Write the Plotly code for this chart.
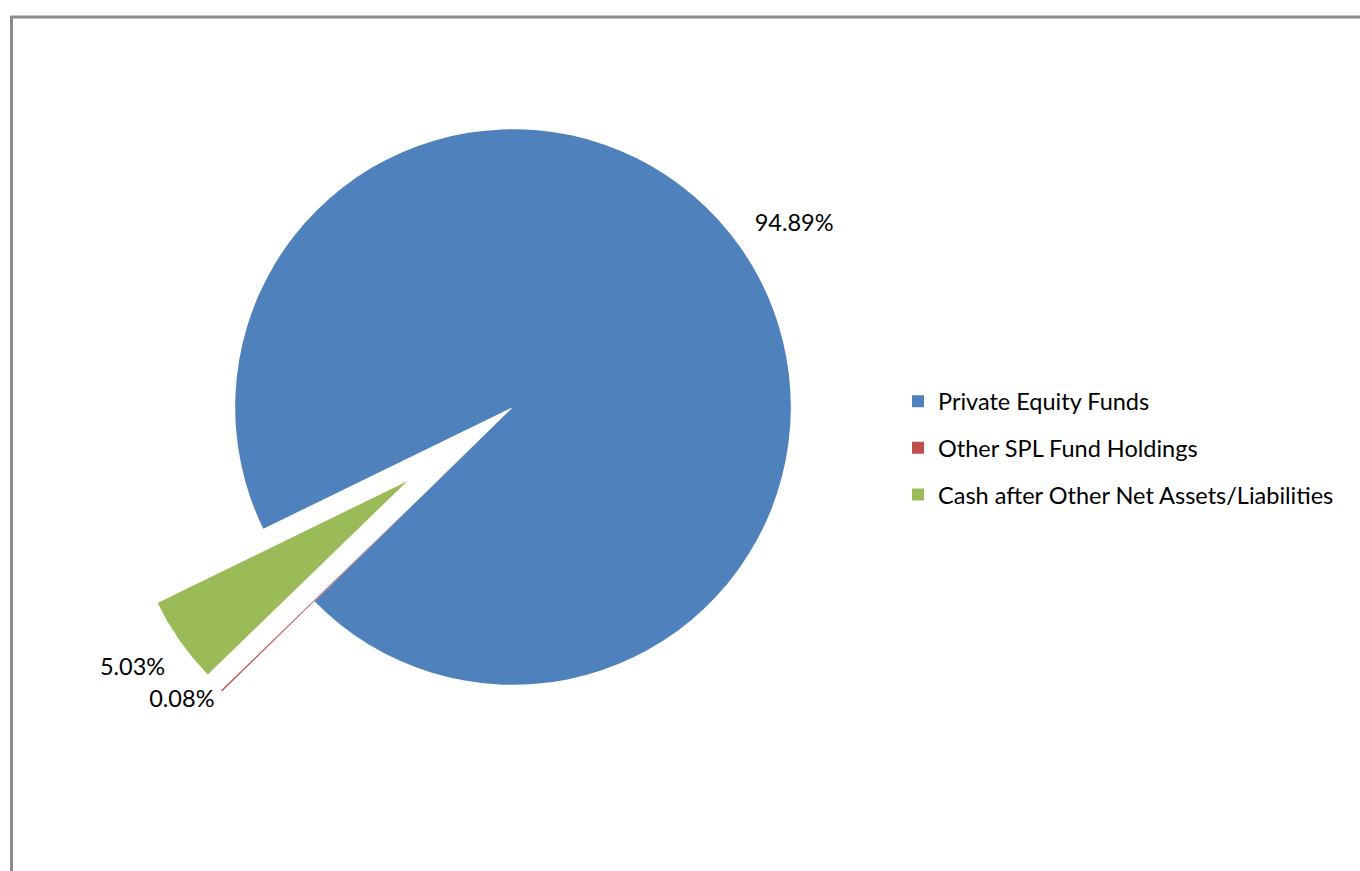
import plotly.graph_objects as go

labels = ["Private Equity Funds", "Other SPL Fund Holdings", "Cash after Other Net Assets/Liabilities"]
values = [94.89, 0.08, 5.03]
colors = ["#4F81BD", "#C0504D", "#9BBB59"]
pulls = [0, 0.465, 0.465]

W, H = 1360, 871
cx, cy = 513, 407
half = cy  # domain half-size in px

# label templates (blank line pushes the label a little away from the arc)
templates = ["%{percent:.2%}<br> ", "%{percent:.2%}", " <br>%{percent:.2%}"]

fig = go.Figure()
fig.add_trace(go.Pie(
    labels=labels, values=values, sort=False, direction="clockwise",
    rotation=-116, pull=pulls,
    marker=dict(colors=colors, line=dict(width=0)),
    texttemplate=templates, textposition="outside",
    textfont=dict(family="Lato", size=23.5, color="#000000"),
    showlegend=False, hoverinfo="label+percent", automargin=False,
    domain=dict(x=[(cx - half) / W, (cx + half) / W], y=[1 - 2 * half / H, 1]),
))

for i, (lab, col) in enumerate(zip(labels, colors)):
    fig.add_trace(go.Scatter(
        x=[None], y=[None], mode="markers", name=lab,
        marker=dict(symbol="square", size=12, color=col),
        legendgroup=f"g{i}", showlegend=True,
    ))

fig.update_layout(
    width=W, height=H,
    margin=dict(l=0, r=0, t=0, b=0, pad=0, autoexpand=False),
    paper_bgcolor="white", plot_bgcolor="white",
    xaxis=dict(visible=False), yaxis=dict(visible=False),
    legend=dict(x=898 / W, y=1 - 448 / H, xanchor="left", yanchor="middle",
                font=dict(family="Lato", size=23.5, color="#000000"),
                tracegroupgap=13, bgcolor="rgba(0,0,0,0)"),
    shapes=[dict(type="rect", xref="paper", yref="paper",
                 x0=11.5 / W, x1=1.02, y0=-0.02, y1=1 - 17 / H,
                 line=dict(color="#8C8C8C", width=3))],
)

fig.write_html("out.html", config={"displayModeBar": False},
               post_script="document.body.style.margin='0';document.body.style.overflow='hidden';")
